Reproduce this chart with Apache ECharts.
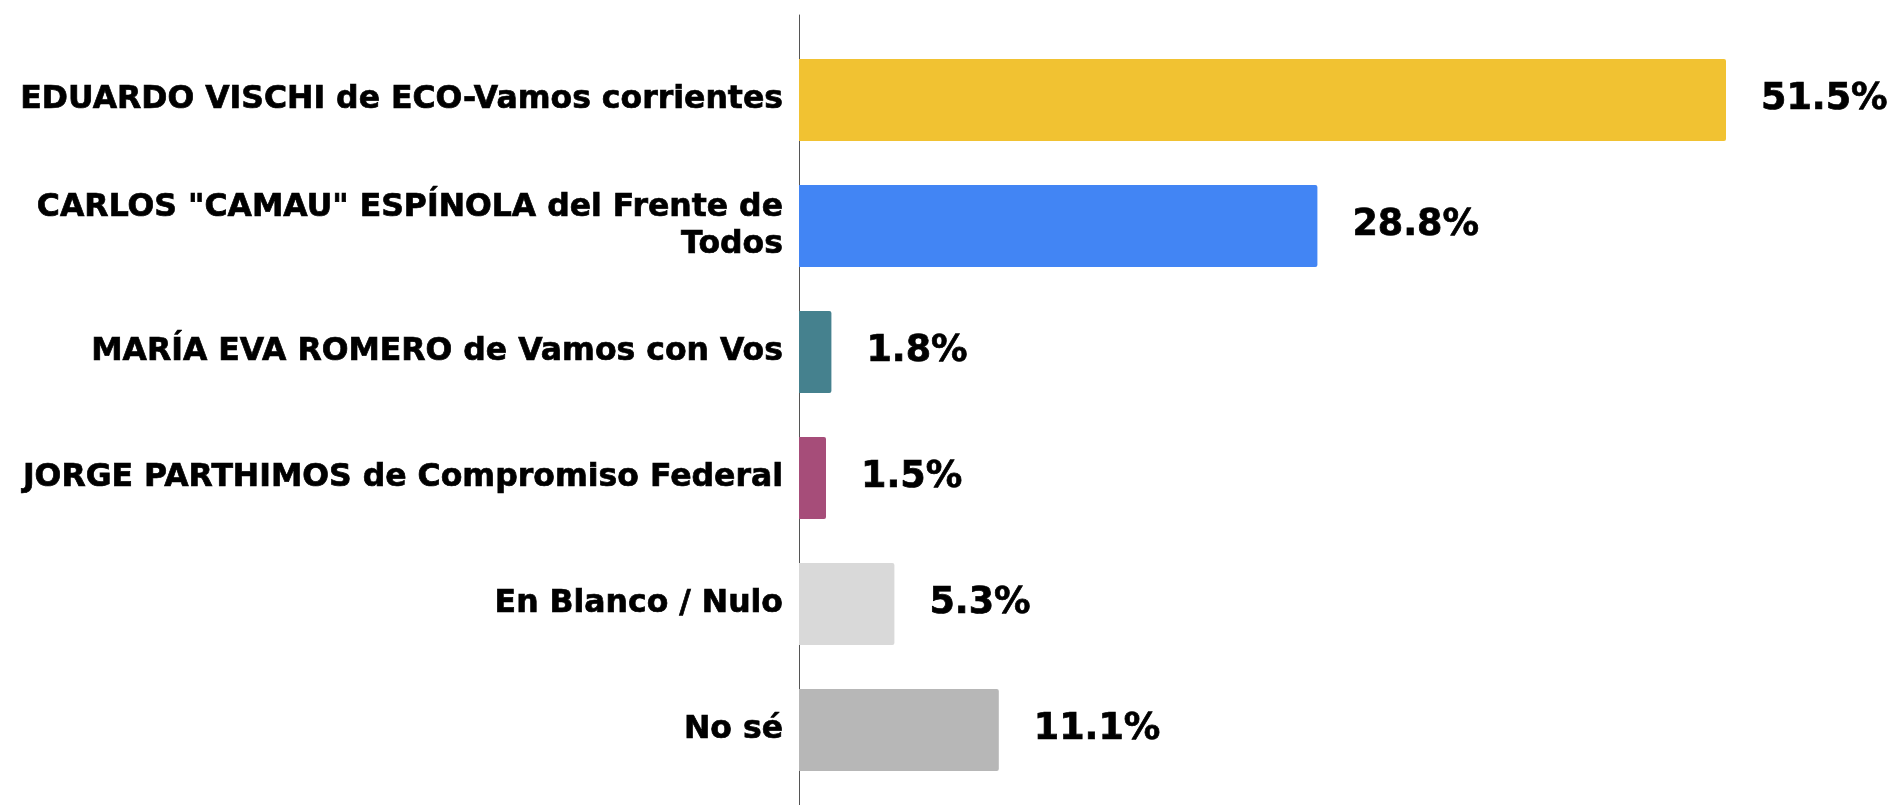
<!DOCTYPE html>
<html>
<head>
<meta charset="utf-8">
<script src="https://cdn.jsdelivr.net/npm/echarts@6/dist/echarts.min.js"></script>
<style>
  html, body { margin: 0; padding: 0; background: #fff; }
  #chart { width: 1895px; height: 805px; }
</style>
</head>
<body>
<div id="chart"></div>
<script>
// 候補者ごとの得票率
var candidates = [
  'EDUARDO VISCHI de ECO-Vamos corrientes',
  'CARLOS "CAMAU" ESPÍNOLA del Frente de\nTodos',
  'MARÍA EVA ROMERO de Vamos con Vos',
  'JORGE PARTHIMOS de Compromiso Federal',
  'En Blanco / Nulo',
  'No sé'
];
var percents = [51.5, 28.8, 1.8, 1.5, 5.3, 11.1];
var barColors = ['#F1C232', '#4285F4', '#45818E', '#A64D79', '#D9D9D9', '#B7B7B7'];

var myChart = echarts.init(document.getElementById('chart'));

var option = {
  animation: false,
  textStyle: { fontFamily: 'DejaVu Sans' },
  grid: [
    { left: 799, top: 37, height: 756, width: 1080 },
    { left: 799, top: 15, height: 790, width: 1080 } // 軸線だけ長く描く
  ],
  xAxis: [
    { gridIndex: 0, type: 'value', min: 0, max: 60, show: false },
    { gridIndex: 1, type: 'value', min: 0, max: 60, show: false }
  ],
  yAxis: [
    {
      gridIndex: 0,
      type: 'category',
      inverse: true,
      data: candidates,
      axisLine: { show: false },
      axisTick: { show: false },
      axisLabel: {
        margin: 16,
        color: '#000',
        fontSize: 31.5,
        fontWeight: 'bold',
        fontFamily: 'DejaVu Sans',
        align: 'right',
        lineHeight: 37,
        textBorderColor: '#000',
        textBorderWidth: 0.7
      }
    },
    {
      gridIndex: 1,
      type: 'value',
      axisLine: { show: true, lineStyle: { color: '#555', width: 1 } },
      axisTick: { show: false },
      axisLabel: { show: false },
      splitLine: { show: false }
    }
  ],
  series: [
    {
      type: 'bar',
      xAxisIndex: 0,
      yAxisIndex: 0,
      barWidth: 82,
      data: percents.map(function (v, i) {
        return { value: v, itemStyle: { color: barColors[i], borderRadius: [0, 2, 2, 0] } };
      }),
      label: {
        show: true,
        position: 'right',
        distance: 35,
        color: '#000',
        fontSize: 36.5,
        fontWeight: 'bold',
        fontFamily: 'DejaVu Sans',
        textBorderColor: '#000',
        textBorderWidth: 0.7,
        formatter: function (p) { return p.value.toFixed(1) + '%'; }
      }
    }
  ]
};

myChart.setOption(option);
</script>
</body>
</html>
